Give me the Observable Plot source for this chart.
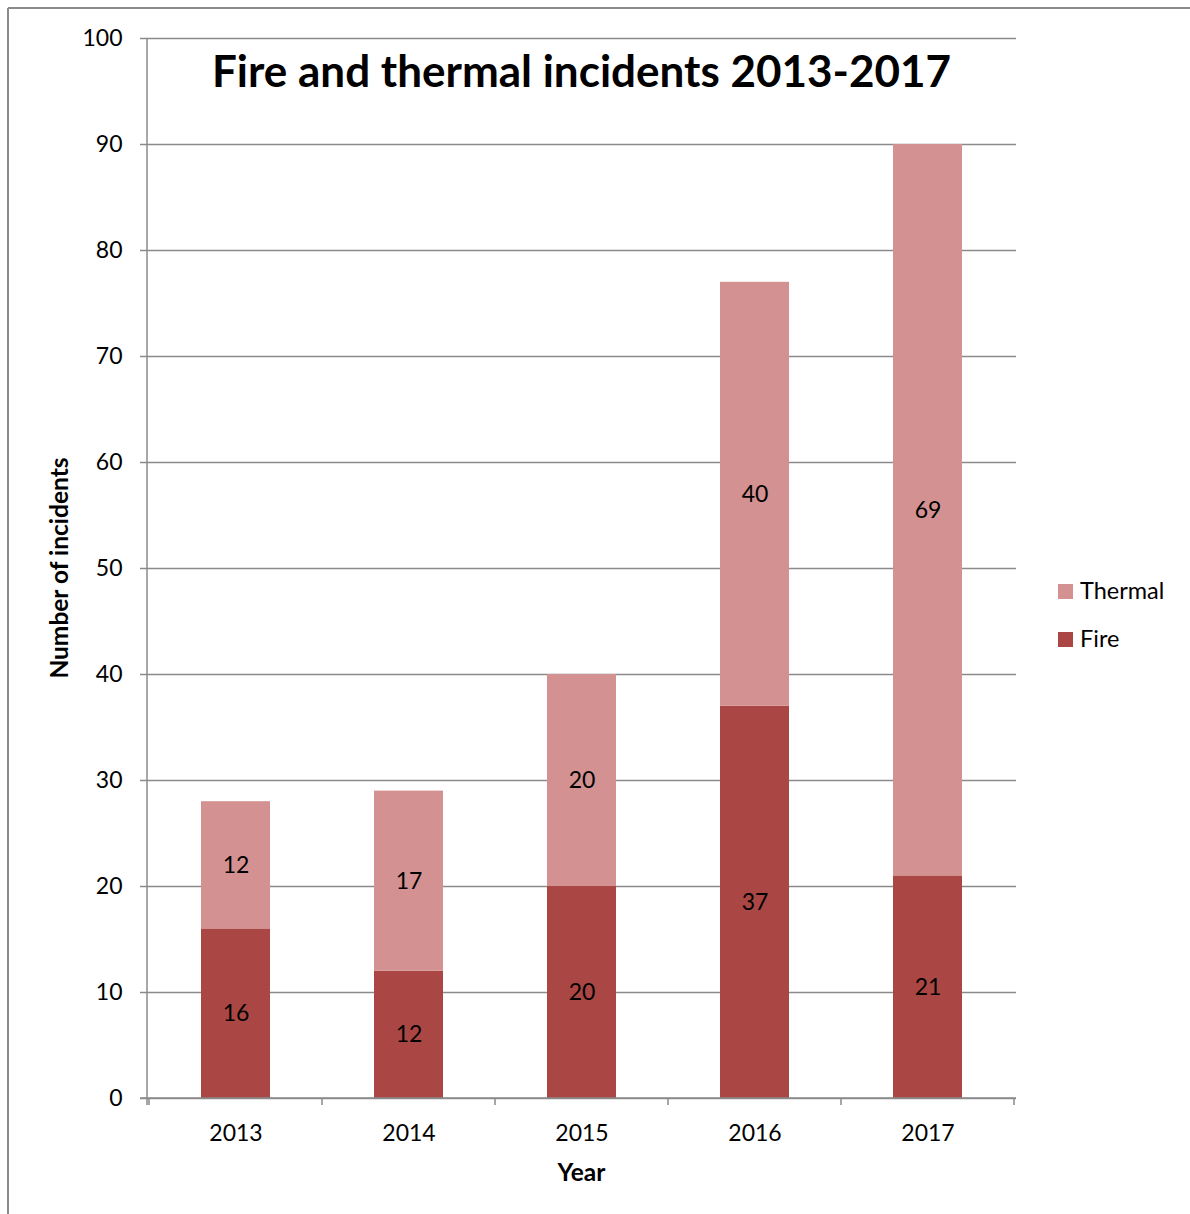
<!DOCTYPE html>
<html>
<head>
<meta charset="utf-8">
<script src="https://cdn.jsdelivr.net/npm/d3@7"></script>
<script src="https://cdn.jsdelivr.net/npm/@observablehq/plot@0.6"></script>
<style>
  html, body { margin: 0; padding: 0; background: #fff; }
  #chart { width: 1190px; height: 1214px; }
</style>
</head>
<body>
<div id="chart"></div>
<script>
const years = ["2013", "2014", "2015", "2016", "2017"];
const fire = [16, 12, 20, 37, 21];
const thermal = [12, 17, 20, 40, 69];
const seriesNames = ["Fire", "Thermal"];
const seriesColors = ["#AA4744", "#D39291"];
const yTicks = [0, 10, 20, 30, 40, 50, 60, 70, 80, 90, 100];
const title = "Fire and thermal incidents 2013-2017";
const xLabel = "Year";
const yLabel = "Number of incidents";

const FONT = "Lato, 'Open Sans', sans-serif";

const data = [];
years.forEach((y, i) => {
  data.push({year: y, type: "Fire", value: fire[i]});
  data.push({year: y, type: "Thermal", value: thermal[i]});
});

const W = 1190, H = 1214;
const mL = 147, mR = 174, mT = 38, mB = 116;

const chart = Plot.plot({
  width: W,
  height: H,
  marginLeft: mL,
  marginRight: mR,
  marginTop: mT,
  marginBottom: mB,
  style: {fontFamily: FONT, fontSize: "23px", color: "#000", background: "#fff"},
  x: {domain: years, paddingInner: 0.6, paddingOuter: 0.3, label: null},
  y: {domain: [0, 100], label: null},
  color: {domain: seriesNames, range: seriesColors},
  marks: [
    Plot.gridY(yTicks, {stroke: "#8a8a8a", strokeOpacity: 1, strokeWidth: 1.5}),
    Plot.barY(data, {x: "year", y: "value", fill: "type", z: "type", order: seriesNames}),
    Plot.text(data, Plot.stackY({x: "year", y: "value", z: "type", text: "value", order: seriesNames, fill: "#000", fontSize: 23})),
    Plot.axisY({ticks: yTicks, tickSize: 7, tickPadding: 18, stroke: "#8a8a8a", strokeWidth: 1.5, fill: "#000", fontSize: 23, label: null}),
    Plot.axisX({tickSize: 0, tickPadding: 26, fill: "#000", fontSize: 23, label: null})
  ]
});

document.getElementById("chart").appendChild(chart);

const svg = d3.select(chart);
const xs = chart.scale("x");
const ys = chart.scale("y");
const y0 = ys.apply(0), y100 = ys.apply(100);
const left = mL, right = W - mR;
const step = xs.step;
const bw = xs.bandwidth;
const firstStart = xs.apply(years[0]);
const startX = firstStart - (step - bw) / 2;

const g = svg.append("g");
// outer chart border (top and left)
g.append("line").attr("x1", 8).attr("x2", W).attr("y1", 8).attr("y2", 8).attr("stroke", "#8a8a8a").attr("stroke-width", 2);
g.append("line").attr("x1", 8).attr("x2", 8).attr("y1", 8).attr("y2", H).attr("stroke", "#8a8a8a").attr("stroke-width", 2);
// y axis line
g.append("line").attr("x1", left).attr("x2", left).attr("y1", y100).attr("y2", y0 + 7).attr("stroke", "#8a8a8a").attr("stroke-width", 1.5);
// x axis line
g.append("line").attr("x1", left - 7).attr("x2", right).attr("y1", y0).attr("y2", y0).attr("stroke", "#8a8a8a").attr("stroke-width", 1.5);
// x category boundary ticks
for (let i = 0; i <= years.length; i++) {
  const x = startX + i * step;
  g.append("line").attr("x1", x).attr("x2", x).attr("y1", y0).attr("y2", y0 + 7).attr("stroke", "#8a8a8a").attr("stroke-width", 1.5);
}
const cx = (left + right) / 2;
// title
g.append("text").attr("x", cx).attr("y", 87).attr("text-anchor", "middle")
  .attr("font-family", FONT).attr("font-weight", "bold").attr("font-size", 44).attr("fill", "#000").text(title);
// x label
g.append("text").attr("x", cx).attr("y", 1181).attr("text-anchor", "middle")
  .attr("font-family", FONT).attr("font-weight", "bold").attr("font-size", 24.5).attr("fill", "#000").text(xLabel);
// y label
g.append("text").attr("transform", `translate(68,${(y0 + y100) / 2}) rotate(-90)`).attr("text-anchor", "middle")
  .attr("font-family", FONT).attr("font-weight", "bold").attr("font-size", 24.5).attr("fill", "#000").text(yLabel);
// legend
const legendItems = [["Thermal", seriesColors[1]], ["Fire", seriesColors[0]]];
legendItems.forEach(([name, col], i) => {
  const ly = 591 + i * 48;
  g.append("rect").attr("x", 1058).attr("y", ly - 7).attr("width", 15).attr("height", 15).attr("fill", col);
  g.append("text").attr("x", 1080).attr("y", ly + 8).attr("text-anchor", "start").attr("font-family", FONT).attr("font-size", 23.5).attr("fill", "#000").text(name);
});
</script>
</body>
</html>
